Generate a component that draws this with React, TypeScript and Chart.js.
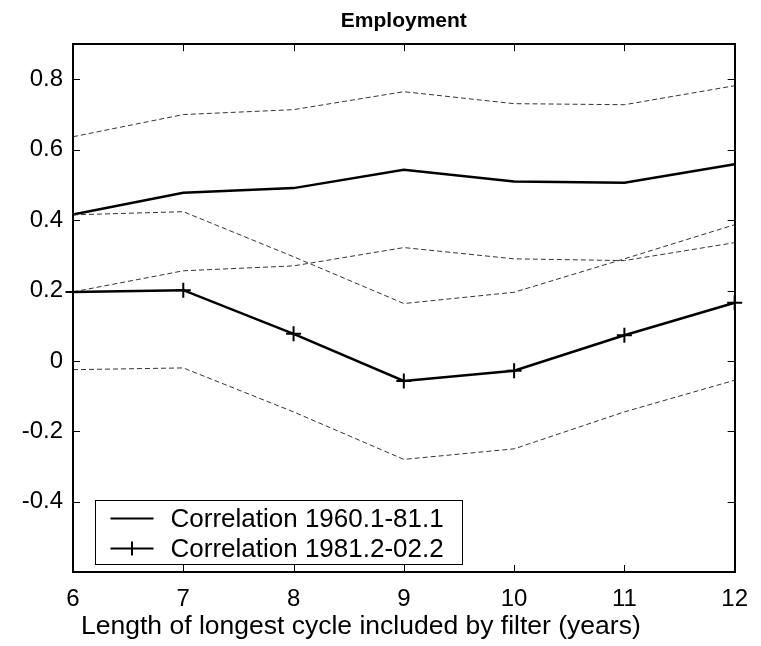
import React, { useEffect, useRef } from 'react';
import { Chart, registerables } from 'chart.js';

Chart.register(...registerables);

const FONT = '"Liberation Sans", Arial, Helvetica, sans-serif';

const titleText = 'Employment';
const xAxisTitle = 'Length of longest cycle included by filter (years)';
const legendLabels = ['Correlation 1960.1-81.1', 'Correlation 1981.2-02.2'];

const xValues = [6, 7, 8, 9, 10, 11, 12];
const xTicks = [6, 7, 8, 9, 10, 11, 12];
const yTicks = [-0.4, -0.2, 0, 0.2, 0.4, 0.6, 0.8];

const corr1960 = [0.416, 0.478, 0.491, 0.543, 0.51, 0.506, 0.559];
const corr1960Upper = [0.637, 0.7, 0.714, 0.765, 0.731, 0.728, 0.782];
const corr1960Lower = [0.196, 0.256, 0.27, 0.322, 0.29, 0.285, 0.336];

const corr1981 = [0.196, 0.201, 0.077, -0.057, -0.028, 0.073, 0.165];
const corr1981Upper = [0.415, 0.424, 0.296, 0.163, 0.195, 0.29, 0.387];
const corr1981Lower = [-0.025, -0.02, -0.145, -0.28, -0.25, -0.145, -0.055];

const pts = (ys: number[]) => xValues.map((x, i) => ({ x, y: ys[i] }));

const dashed = (ys: number[]) => ({
  data: pts(ys),
  borderColor: '#333',
  borderWidth: 1,
  borderDash: [5, 3],
  pointRadius: 0,
  fill: false,
  tension: 0,
  clip: false as any,
});

const frameTicks = {
  id: 'frameTicks',
  afterDatasetsDraw(chart: any) {
    const { ctx, chartArea: a, scales } = chart;
    const x = scales.x;
    const y = scales.y;
    ctx.save();
    ctx.strokeStyle = '#000';
    ctx.lineWidth = 1;
    const L = 7;
    ctx.beginPath();
    x.ticks.forEach((t: any) => {
      const px = Math.round(x.getPixelForValue(t.value)) + 0.5;
      ctx.moveTo(px, a.bottom);
      ctx.lineTo(px, a.bottom - L);
      ctx.moveTo(px, a.top);
      ctx.lineTo(px, a.top + L);
    });
    y.ticks.forEach((t: any) => {
      const py = Math.round(y.getPixelForValue(t.value)) + 0.5;
      ctx.moveTo(a.left, py);
      ctx.lineTo(a.left + L, py);
      ctx.moveTo(a.right, py);
      ctx.lineTo(a.right - L, py);
    });
    ctx.stroke();
    ctx.lineWidth = 2;
    ctx.strokeRect(Math.round(a.left), Math.round(a.top), Math.round(a.right - a.left), Math.round(a.bottom - a.top));
    ctx.restore();
  },
};

const boxLegend = {
  id: 'boxLegend',
  afterDraw(chart: any) {
    const { ctx, chartArea: a } = chart;
    const left = Math.round(a.left) + 22.5;
    const top = Math.round(a.bottom) - 71.5;
    const w = 367;
    const h = 64;
    ctx.save();
    ctx.fillStyle = '#fff';
    ctx.fillRect(left, top, w, h);
    ctx.strokeStyle = '#000';
    ctx.lineWidth = 1;
    ctx.strokeRect(left, top, w, h);
    ctx.font = `26px ${FONT}`;
    ctx.textBaseline = 'middle';
    ctx.fillStyle = '#000';
    legendLabels.forEach((label, i) => {
      const cy = top + 18 + i * 30;
      ctx.lineWidth = 2;
      ctx.beginPath();
      ctx.moveTo(left + 15, cy);
      ctx.lineTo(left + 58, cy);
      if (i === 1) {
        const cx = left + 36.5;
        ctx.moveTo(cx, cy - 7);
        ctx.lineTo(cx, cy + 7);
      }
      ctx.stroke();
      ctx.fillText(label, left + 75, cy + 1);
    });
    // x-axis title
    ctx.font = `26.5px ${FONT}`;
    ctx.textAlign = 'left';
    ctx.fillText(xAxisTitle, Math.round(a.left) + 8, Math.round(a.bottom) + 55);
    ctx.restore();
  },
};

export default function App() {
  const ref = useRef<HTMLCanvasElement | null>(null);

  useEffect(() => {
    if (!ref.current) return;
    const chart = new Chart(ref.current, {
      type: 'line',
      data: {
        datasets: [
          dashed(corr1960Upper),
          dashed(corr1960Lower),
          dashed(corr1981Upper),
          dashed(corr1981Lower),
          {
            label: legendLabels[0],
            data: pts(corr1960),
            borderColor: '#000',
            borderWidth: 2.5,
            pointRadius: 0,
            tension: 0,
            clip: false as any,
          },
          {
            label: legendLabels[1],
            data: pts(corr1981),
            borderColor: '#000',
            borderWidth: 2.5,
            pointStyle: 'cross',
            pointRadius: 7.5,
            pointBorderWidth: 2,
            pointBorderColor: '#000',
            tension: 0,
            clip: false as any,
          },
        ],
      },
      options: {
        animation: false,
        responsive: false,
        maintainAspectRatio: false,
        layout: { padding: { left: 0, right: 26, top: 0, bottom: 0 } },
        plugins: {
          legend: { display: false },
          tooltip: { enabled: false },
          title: {
            display: true,
            text: titleText,
            fullSize: false,
            color: '#000',
            font: { family: FONT, size: 21, weight: 'bold' },
            padding: { top: 9, bottom: 10 },
          },
        },
        scales: {
          x: {
            type: 'linear',
            min: 6,
            max: 12,
            afterBuildTicks: (s: any) => {
              s.ticks = xTicks.map((v) => ({ value: v }));
            },
            afterFit: (s: any) => {
              s.height = 74;
            },
            grid: { display: false, drawTicks: false },
            border: { display: false },
            ticks: {
              color: '#000',
              font: { family: FONT, size: 24 },
              padding: 13,
              maxRotation: 0,
              autoSkip: false,
              callback: (v: any) => String(v),
            },
            title: { display: false },
          },
          y: {
            type: 'linear',
            min: -0.6,
            max: 0.9,
            afterBuildTicks: (s: any) => {
              s.ticks = yTicks.map((v) => ({ value: v }));
            },
            afterFit: (s: any) => {
              s.width = 73;
            },
            grid: { display: false, drawTicks: false },
            border: { display: false },
            ticks: {
              color: '#000',
              font: { family: FONT, size: 24 },
              padding: 10,
              autoSkip: false,
              callback: (v: any) => (Math.abs(v) < 1e-9 ? '0' : Number(v).toFixed(1)),
            },
          },
        },
      },
      plugins: [frameTicks, boxLegend],
    });
    return () => chart.destroy();
  }, []);

  return (
    <div style={{ position: 'fixed', left: 0, top: 0, width: 761, height: 646, background: '#fff' }}>
      <canvas ref={ref} width={761} height={646} style={{ display: 'block', width: 761, height: 646 }} />
    </div>
  );
}
